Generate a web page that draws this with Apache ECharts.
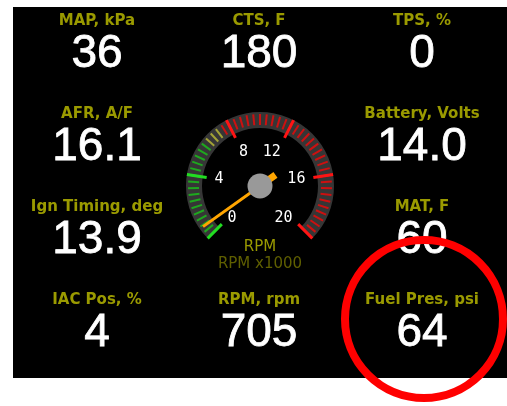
<!DOCTYPE html>
<html>
<head>
<meta charset="utf-8">
<script src="https://cdn.jsdelivr.net/npm/echarts@6/dist/echarts.min.js"></script>
<style>
  html, body { margin: 0; padding: 0; background: #ffffff; }
  #main { width: 507px; height: 406px; }
</style>
</head>
<body>
<div id="main"></div>
<script>
// tiles, read left to right, top to bottom (null = gauge cell)
var tileLabels = ['MAP, kPa', 'CTS, F', 'TPS, %',
                  'AFR, A/F', null, 'Battery, Volts',
                  'Ign Timing, deg', null, 'MAT, F',
                  'IAC Pos, %', 'RPM, rpm', 'Fuel Pres, psi'];
var tileValues = [36, 180, 0,
                  16.1, null, 14.0,
                  13.9, null, 60,
                  4, 705, 64];
var tileDecimals = [0, 0, 0,
                    1, 0, 1,
                    1, 0, 0,
                    0, 0, 0];

// gauge
var rpm = 705;
var gaugeMin = 0;
var gaugeMax = 20;
var gaugeLabels = [0, 4, 8, 12, 16, 20];

var myChart = echarts.init(document.getElementById('main'));

var colX = [97, 259, 422];
var rowY = 21.5, rowStep = 93, valueGap = 33;
var olive = '#9a9a00';

var graphics = [{
  type: 'rect', z: -10,
  shape: { x: 13, y: 7, width: 494, height: 371 },
  style: { fill: '#000000' }
}];

tileLabels.forEach(function (lbl, i) {
  if (lbl === null) return;
  var cx = colX[i % 3];
  var ty = rowY + Math.floor(i / 3) * rowStep;
  graphics.push({
    type: 'text', z: 5,
    style: {
      text: lbl, x: cx, y: ty,
      align: 'center', verticalAlign: 'middle',
      textAlign: 'center', textVerticalAlign: 'middle',
      font: 'bold 15px "DejaVu Sans"', fill: olive
    }
  });
  graphics.push({
    type: 'text', z: 5,
    style: {
      text: tileValues[i].toFixed(tileDecimals[i]), x: cx, y: ty + valueGap,
      align: 'center', verticalAlign: 'middle',
      textAlign: 'center', textVerticalAlign: 'middle',
      font: '46px "Liberation Sans"', fill: '#ffffff',
      stroke: '#ffffff', lineWidth: 0.8
    }
  });
});

// red marker ring around fuel pressure
graphics.push({
  type: 'circle', z: 100,
  shape: { cx: 424, cy: 319, r: 79 },
  style: { fill: 'none', stroke: '#ff0000', lineWidth: 8 }
});

var common = {
  type: 'gauge',
  center: [260, 186],
  startAngle: 225,
  endAngle: -45,
  min: gaugeMin,
  max: gaugeMax,
  splitNumber: gaugeLabels.length - 1,
  animation: false
};

myChart.setOption({
  backgroundColor: '#ffffff',
  animation: false,
  graphic: graphics,
  series: [
    // dark band
    Object.assign({}, common, {
      radius: 74,
      axisLine: { lineStyle: { width: 16, color: [[1, '#363636']] } },
      axisTick: { show: false },
      splitLine: { show: false },
      axisLabel: { show: false },
      pointer: { show: false },
      anchor: { show: false },
      title: { show: false },
      detail: { show: false },
      data: [{ value: 0 }]
    }),
    // minor ticks
    Object.assign({}, common, {
      radius: 72,
      axisLine: { show: false, lineStyle: { width: 0, color: [[0.31, '#1ea81e'], [0.37, '#a3a336'], [1, '#cc1010']] } },
      axisTick: { show: true, splitNumber: 10, length: 11, distance: 0, lineStyle: { color: 'auto', width: 2 } },
      splitLine: { show: false },
      axisLabel: { show: false },
      pointer: { show: false },
      anchor: { show: false },
      title: { show: false },
      detail: { show: false },
      data: [{ value: 0 }]
    }),
    // major ticks, labels, needle
    Object.assign({}, common, {
      radius: 74,
      axisLine: { show: false, lineStyle: { width: 0, color: [[0.3, '#22dd22'], [1, '#ff1414']] } },
      axisTick: { show: false },
      splitLine: { show: true, length: 20, distance: 0, lineStyle: { color: 'auto', width: 3 } },
      axisLabel: {
        show: true, distance: 8, color: '#ffffff',
        fontFamily: 'DejaVu Sans Mono', fontSize: 15,
        formatter: function (v) { return gaugeLabels.indexOf(Math.round(v)) >= 0 ? String(Math.round(v)) : ''; }
      },
      pointer: {
        show: true,
        icon: 'path://M2,0 L5,0 L5,70 L7,70 L7,89 L0,89 L0,70 L2,70 Z',
        length: 89, width: 7, offsetCenter: [0, 19],
        itemStyle: { color: '#ffa500' }
      },
      anchor: { show: true, showAbove: true, size: 25, itemStyle: { color: '#999999' } },
      title: { show: true, offsetCenter: [0, 61], color: olive, fontSize: 15, fontFamily: 'DejaVu Sans' },
      detail: {
        show: true, offsetCenter: [0, 78], color: '#5f5f00', fontSize: 15, fontFamily: 'DejaVu Sans',
        fontWeight: 'normal',
        formatter: function () { return 'RPM x1000'; }
      },
      data: [{ value: rpm / 1000, name: 'RPM' }]
    })
  ]
});
</script>
</body>
</html>
